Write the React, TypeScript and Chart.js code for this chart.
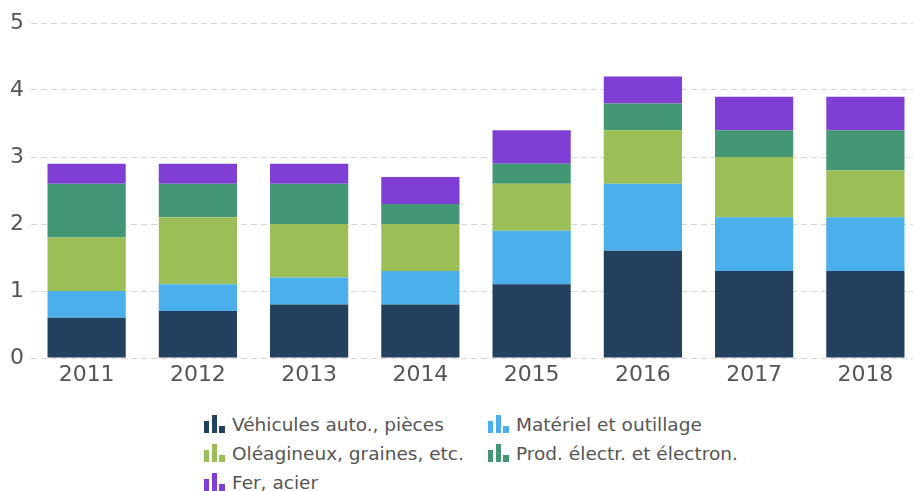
import React, { useEffect, useRef } from "react";
import { Chart, registerables } from "chart.js";

Chart.register(...registerables);

const years = ["2011", "2012", "2013", "2014", "2015", "2016", "2017", "2018"];
const vehicules = [0.6, 0.7, 0.8, 0.8, 1.1, 1.6, 1.3, 1.3];
const materiel = [0.4, 0.4, 0.4, 0.5, 0.8, 1.0, 0.8, 0.8];
const oleagineux = [0.8, 1.0, 0.8, 0.7, 0.7, 0.8, 0.9, 0.7];
const electr = [0.8, 0.5, 0.6, 0.3, 0.3, 0.4, 0.4, 0.6];
const fer = [0.3, 0.3, 0.3, 0.4, 0.5, 0.4, 0.5, 0.5];
const yTicks = [0, 1, 2, 3, 4, 5];

const seriesNames = [
  "Véhicules auto., pièces",
  "Matériel et outillage",
  "Oléagineux, graines, etc.",
  "Prod. électr. et électron.",
  "Fer, acier",
];
const seriesColors = ["#23405F", "#4AAFEB", "#9BBE57", "#439774", "#7F3FD4"];
const seriesData = [vehicules, materiel, oleagineux, electr, fer];

const FONT = "'DejaVu Sans', Verdana, sans-serif";

function Icon({ color }: { color: string }) {
  const bar = (w: number, h: number, ml: number) => (
    <span
      style={{
        display: "block",
        width: w,
        height: h,
        marginLeft: ml,
        background: color,
        flex: "none",
      }}
    />
  );
  return (
    <span
      style={{
        display: "flex",
        alignItems: "flex-end",
        height: 18,
        width: 21,
        marginLeft: 1,
        marginRight: 7,
        marginTop: -1,
      }}
    >
      {bar(5, 12, 0)}
      {bar(5, 18, 3)}
      {bar(6, 7, 2)}
    </span>
  );
}

export default function App() {
  const ref = useRef<HTMLCanvasElement | null>(null);

  useEffect(() => {
    if (!ref.current) return;
    const chart = new Chart(ref.current, {
      type: "bar",
      data: {
        labels: years,
        datasets: seriesData.map((d, i) => ({
          label: seriesNames[i],
          data: d,
          backgroundColor: seriesColors[i],
          borderWidth: 0,
          categoryPercentage: 0.703,
          barPercentage: 1,
        })),
      },
      options: {
        animation: false,
        responsive: false,
        devicePixelRatio: 1,
        layout: { padding: { top: 23, right: 1, left: 0, bottom: 0 } },
        plugins: { legend: { display: false }, tooltip: { enabled: false } },
        scales: {
          x: {
            stacked: true,
            grid: { display: false, drawTicks: false },
            border: { display: false },
            ticks: {
              color: "#555",
              font: { family: FONT, size: 22 },
              padding: 4,
            },
            afterFit: (s: any) => {
              s.height = 42;
            },
          },
          y: {
            stacked: true,
            min: 0,
            max: 5,
            afterBuildTicks: (s: any) => {
              s.ticks = yTicks.map((v) => ({ value: v }));
            },
            grid: {
              color: "#d8d8d8",
              lineWidth: 1,
              drawTicks: false,
            },
            border: { display: false, dash: [6, 4] },
            ticks: {
              color: "#555",
              font: { family: FONT, size: 22 },
              padding: 7,
            },
            afterFit: (s: any) => {
              s.width = 31;
            },
          },
        },
      },
    });
    return () => chart.destroy();
  }, []);

  const rows = [
    [0, 1],
    [2, 3],
    [4],
  ];
  const colLeft = [203, 487];

  return (
    <div
      style={{
        position: "fixed",
        left: 0,
        top: 0,
        width: 913,
        height: 491,
        overflow: "hidden",
        background: "#fff",
        fontFamily: FONT,
      }}
    >
      <canvas
        ref={ref}
        width={922}
        height={400}
        style={{ position: "absolute", left: 0, top: 0, width: 922, height: 400 }}
      />
      {rows.map((r, ri) =>
        r.map((si, ci) => (
          <div
            key={si}
            style={{
              position: "absolute",
              left: colLeft[ci],
              top: 410 + ri * 29,
              height: 29,
              display: "flex",
              alignItems: "center",
              whiteSpace: "nowrap",
              fontSize: 18.5,
              color: "#555",
            }}
          >
            <Icon color={seriesColors[si]} />
            <span>{seriesNames[si]}</span>
          </div>
        ))
      )}
    </div>
  );
}
